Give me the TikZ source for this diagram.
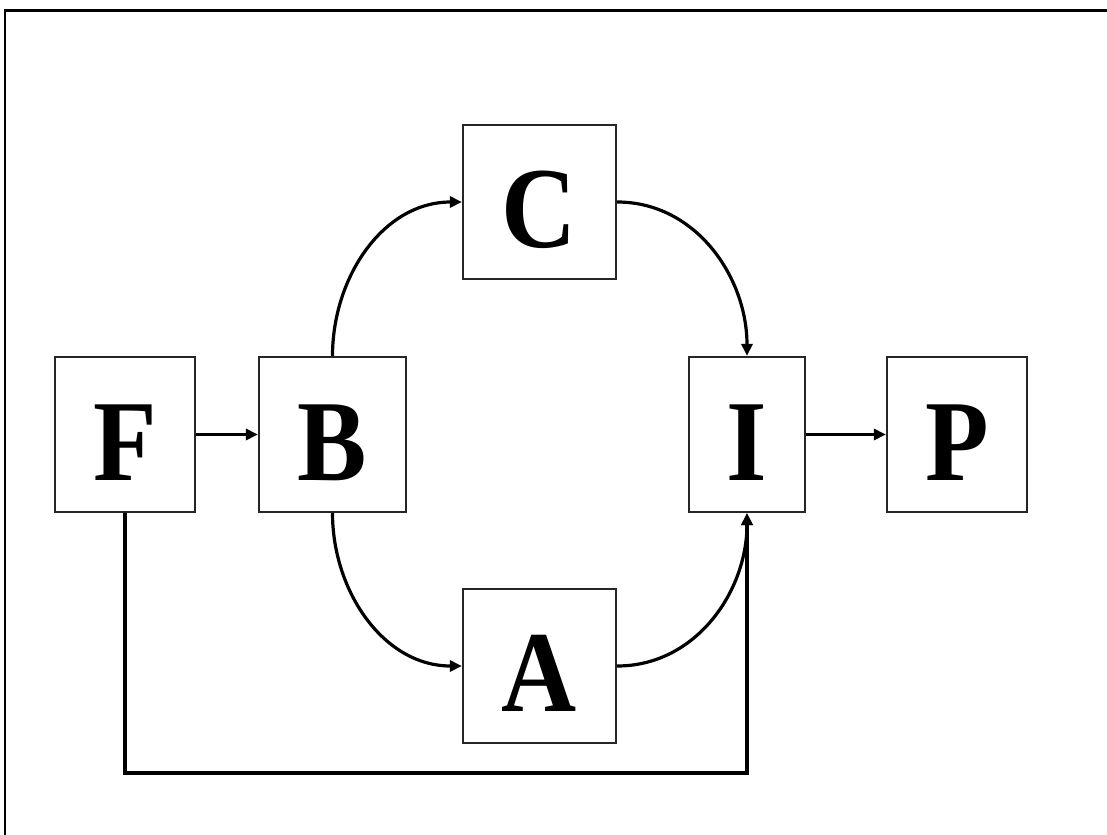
\documentclass[tikz,border=0pt]{standalone}
\usepackage{fontspec}
\setmainfont{Liberation Serif}
\newfontfamily\blockfont{Liberation Serif Bold}[FakeStretch=0.9]
\usetikzlibrary{arrows.meta}
\begin{document}
\begin{tikzpicture}[x=1bp,y=-1bp,
  block/.style={draw=black!85, line width=2.2bp, inner sep=0pt,
    font=\blockfont\fontsize{116}{116}\selectfont,
    text height=91bp, text depth=0bp},
  conn/.style={draw=black, line width=3.2bp,
    -{Triangle[length=12bp,width=11bp]}},
  frameline/.style={draw=black, line width=2.8bp}]
  \useasboundingbox (0,0) rectangle (1107,835);
  % page frame, open towards the lower right
  \draw[frameline] (5,835) -- (5,10.5) -- (1107,10.5);
  % blocks
  \node[block, minimum width=140bp, minimum height=155bp] (F) at (125,434.5) {F};
  \node[block, minimum width=147bp, minimum height=155bp] (B) at (332.5,434.5) {B};
  \node[block, minimum width=153bp, minimum height=154bp] (C) at (539.5,202) {C};
  \node[block, minimum width=153bp, minimum height=154bp] (A) at (539.5,666) {A};
  \node[block, minimum width=116bp, minimum height=155bp] (I) at (747,434.5) {I};
  \node[block, minimum width=140bp, minimum height=155bp] (P) at (957,434.5) {P};
  % connectors
  \draw[conn] (F.east) -- (B.west);
  \draw[conn] (I.east) -- (P.west);
  \draw[conn] (B.north) to[out=90,in=180] (C.west);
  \draw[conn] (C.east) to[out=0,in=90] (I.north);
  \draw[conn] (B.south) to[out=-90,in=180] (A.west);
  \draw[conn] (A.east) to[out=0,in=-90] (I.south);
  \draw[conn] (F.south) -- (F.south |- 0,773) -| (I.south);
\end{tikzpicture}
\end{document}
